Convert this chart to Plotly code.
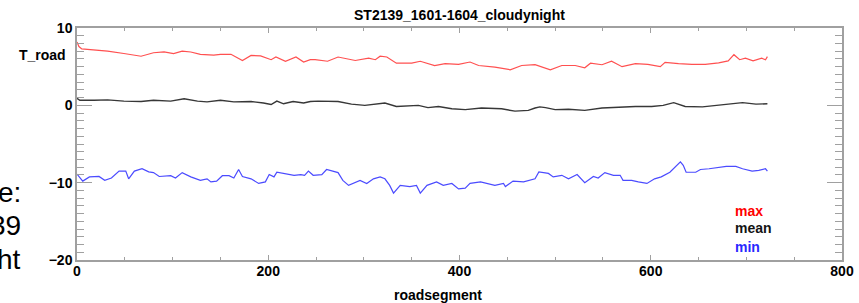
import plotly.graph_objects as go

# ---- data ----
max_seg = [0, 2, 5, 18, 32, 49, 67, 80, 91, 101, 110, 119, 129, 143, 150, 161, 173, 182, 192, 203, 208, 218, 229, 237,
           244, 249, 262, 273, 291, 305, 312, 317, 324, 334, 350, 359, 374, 385, 399, 411, 420, 437, 453, 465, 479,
           495, 507, 521, 531, 537, 549, 559, 570, 584, 597, 610, 615, 629, 643, 657, 671, 681, 687, 693, 699, 707,
           716, 720, 722]
max_val = [8.2, 7.6, 7.3, 7.2, 7.0, 6.7, 6.35, 6.8, 6.9, 6.7, 7.0, 6.9, 6.6, 6.5, 6.6, 6.6, 5.8, 6.45, 6.4, 5.9, 6.25,
           5.7, 6.25, 5.6, 5.9, 5.9, 5.7, 6.25, 5.8, 6.1, 5.9, 6.35, 6.25, 5.45, 5.45, 5.7, 5.15, 5.4, 5.3, 5.6, 5.15,
           4.95, 4.6, 5.15, 5.25, 4.6, 5.15, 5.15, 4.85, 5.45, 5.25, 5.7, 5.0, 5.4, 5.3, 5.0, 5.55, 5.4, 5.3, 5.3, 5.5,
           5.75, 6.55, 5.9, 6.1, 5.75, 6.1, 5.9, 6.3]

mean_seg = [0, 3, 18, 32, 49, 67, 80, 98, 112, 126, 136, 150, 164, 182, 195, 203, 209, 216, 226, 237, 244, 252, 273,
            287, 301, 322, 334, 357, 367, 378, 392, 406, 423, 444, 458, 472, 479, 484, 490, 500, 514, 531, 549, 566,
            584, 601, 613, 624, 636, 654, 671, 685, 696, 710, 722]
mean_val = [0.9, 0.65, 0.65, 0.7, 0.55, 0.5, 0.65, 0.55, 0.85, 0.55, 0.45, 0.65, 0.45, 0.5, 0.3, 0.1, 0.55, 0.2, 0.5,
            0.3, 0.5, 0.55, 0.5, 0.15, 0.0, 0.3, -0.15, 0.0, -0.3, -0.15, -0.45, -0.55, -0.35, -0.45, -0.75, -0.65,
            -0.35, -0.2, -0.3, -0.55, -0.5, -0.65, -0.35, -0.25, -0.15, -0.15, 0.0, 0.35, -0.15, -0.2, 0.0, 0.2, 0.35,
            0.15, 0.2]

min_seg = [0, 6, 13, 23, 29, 36, 44, 51, 54, 60, 68, 75, 80, 86, 98, 103, 110, 119, 129, 136, 140, 146, 152, 159, 164,
           169, 173, 182, 190, 197, 201, 206, 209, 220, 227, 234, 238, 242, 247, 256, 261, 273, 278, 284, 289, 296,
           303, 310, 317, 322, 327, 331, 338, 348, 355, 359, 366, 376, 383, 392, 399, 406, 411, 422, 437, 446, 448,
           456, 467, 477, 479, 483, 493, 498, 507, 514, 523, 531, 540, 545, 552, 561, 568, 571, 580, 587, 596, 604,
           611, 620, 627, 631, 634, 637, 647, 652, 661, 670, 679, 689, 696, 706, 713, 720, 722]
min_val = [-8.9, -9.8, -9.25, -9.2, -9.7, -9.4, -8.5, -8.5, -9.5, -8.5, -8.2, -8.6, -8.7, -9.2, -9.1, -9.4, -8.7,
           -9.25, -9.7, -9.5, -9.9, -9.8, -9.1, -9.1, -9.4, -8.3, -9.2, -9.5, -10.1, -9.9, -8.95, -9.25, -8.65,
           -8.95, -9.05, -8.95, -9.05, -8.5, -9.05, -8.95, -8.3, -8.7, -9.7, -10.35, -10.1, -9.7, -10.1, -9.5, -9.25,
           -9.5, -10.35, -11.35, -10.35, -10.5, -10.35, -11.35, -10.35, -9.9, -10.35, -10.1, -10.8, -10.7, -10.1,
           -9.9, -10.35, -10.1, -10.5, -9.8, -9.9, -9.5, -9.5, -8.6, -8.8, -9.25, -9.05, -9.5, -8.95, -10.0, -9.2,
           -9.4, -8.7, -9.05, -9.05, -9.7, -9.7, -9.9, -10.1, -9.5, -9.25, -8.65, -7.75, -7.3, -7.75, -8.65, -8.65,
           -8.3, -8.2, -8.05, -7.9, -7.9, -8.2, -8.5, -8.4, -8.2, -8.5]

title_text = "ST2139_1601-1604_cloudynight"
y_label = "T_road"
x_label = "roadsegment"
legend_names = ["max", "mean", "min"]
side_fragments = ["e:", "39", "ht"]

FONT = "Liberation Sans, Arial, sans-serif"
AX = "#a0a0a0"

fig = go.Figure()
fig.add_trace(go.Scatter(x=max_seg, y=max_val, mode="lines", line=dict(color="rgb(255,80,80)", width=1.2)))
fig.add_trace(go.Scatter(x=mean_seg, y=mean_val, mode="lines", line=dict(color="rgb(55,55,55)", width=1.4)))
fig.add_trace(go.Scatter(x=min_seg, y=min_val, mode="lines", line=dict(color="rgb(75,75,255)", width=1.2)))

axis_common = dict(showgrid=False, zeroline=False, showline=True, linecolor=AX, linewidth=1.5,
                   mirror="ticks", ticks="inside", tickcolor=AX, tickwidth=1, automargin=False,
                   tickfont=dict(family=FONT, size=14, color="black", weight="bold"))

fig.update_xaxes(range=[0, 800], dtick=200, tick0=0, ticklen=5, ticklabelstandoff=-3,
                 minor=dict(dtick=50, ticks="inside", ticklen=3, tickcolor=AX, showgrid=False),
                 **axis_common)
fig.update_yaxes(range=[-20, 10], dtick=10, tick0=0, ticklen=15,
                 minor=dict(dtick=1, ticks="inside", ticklen=7, tickcolor=AX, showgrid=False),
                 **axis_common)

ann = []
ann.append(dict(text="<b>%s</b>" % title_text, x=0.5, y=1.056, xref="paper", yref="paper",
                xanchor="center", yanchor="middle", showarrow=False,
                font=dict(family=FONT, size=14, color="black")))
ann.append(dict(text="<b>%s</b>" % y_label, x=-0.0784, y=0.8836, xref="paper", yref="paper",
                xanchor="left", yanchor="middle", showarrow=False,
                font=dict(family=FONT, size=14, color="black")))
ann.append(dict(text="<b>%s</b>" % x_label, x=0.472, y=-0.152, xref="paper", yref="paper",
                xanchor="center", yanchor="middle", showarrow=False,
                font=dict(family=FONT, size=14, color="black")))
leg_colors = ["rgb(255,0,0)", "rgb(20,20,20)", "rgb(40,40,255)"]
leg_y = [0.2125, 0.138, 0.057]
for name, c, yy in zip(legend_names, leg_colors, leg_y):
    ann.append(dict(text="<b>%s</b>" % name, x=0.858, y=yy, xref="paper", yref="paper",
                    xanchor="left", yanchor="middle", showarrow=False,
                    font=dict(family=FONT, size=14, color=c)))
frag_y = [0.289, 0.147, 0.004]
for t, yy in zip(side_fragments, frag_y):
    ann.append(dict(text=t, x=-0.0706, y=yy, xref="paper", yref="paper",
                    xanchor="right", yanchor="middle", showarrow=False,
                    font=dict(family=FONT, size=28, color="black")))

fig.update_layout(width=859, height=303, margin=dict(l=77, r=17, t=28, b=43),
                  paper_bgcolor="white", plot_bgcolor="white", showlegend=False,
                  annotations=ann)

fig.write_html("out.html", config={"displayModeBar": False},
               post_script="document.body.style.margin='0';")
